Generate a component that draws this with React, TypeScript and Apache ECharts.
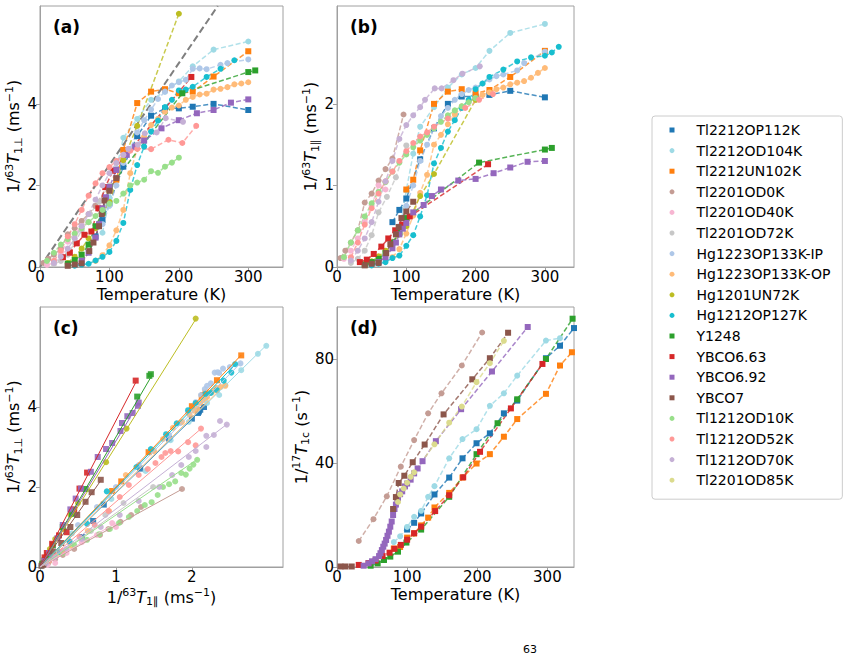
import { useEffect, useRef } from "react";
import * as echarts from "echarts";

const FONT = "DejaVu Sans";

const compoundNames = [
  "Tl2212OP112K", "Tl2212OD104K", "Tl2212UN102K", "Tl2201OD0K", "Tl2201OD40K",
  "Tl2201OD72K", "Hg1223OP133K-IP", "Hg1223OP133K-OP", "Hg1201UN72K", "Hg1212OP127K",
  "Y1248", "YBCO6.63", "YBCO6.92", "YBCO7", "Tl1212OD10K", "Tl1212OD52K",
  "Tl1212OD70K", "Tl2201OD85K",
];
const compoundColors = [
  "#1f77b4", "#9edae5", "#ff7f0e", "#c49c94", "#f7b6d2", "#c7c7c7", "#aec7e8", "#ffbb78",
  "#bcbd22", "#17becf", "#2ca02c", "#d62728", "#9467bd", "#8c564b", "#98df8a", "#ff9896",
  "#c5b0d5", "#dbdb8d",
];
const compoundMarkers = [
  "rect", "circle", "rect", "circle", "circle", "circle", "circle", "circle", "circle",
  "circle", "rect", "rect", "rect", "rect", "circle", "circle", "circle", "circle",
];

// 63Cu rates: T (K), 1/T1 perpendicular and parallel (ms^-1)
const Tl2212OP112K = {
  T: [80, 90, 100, 120, 140, 160, 180, 200, 220, 250, 300],
  perp: [0.75, 1.15, 1.56, 2.46, 3.21, 3.71, 3.89, 3.89, 3.93, 4.0, 3.85],
  par: [0.55, 0.7, 0.84, 1.32, 1.7, 2.0, 2.09, 2.09, 2.11, 2.16, 2.08],
};
const Tl2212OD104K = {
  T: [90, 100, 110, 120, 140, 160, 180, 200, 220, 250, 300],
  perp: [0.84, 1.7, 2.4, 3.17, 3.63, 4.1, 4.3, 4.55, 4.92, 5.33, 5.53],
  par: [0.42, 0.94, 1.39, 1.72, 1.96, 2.2, 2.36, 2.44, 2.65, 2.87, 2.98],
};
const Tl2212UN102K = {
  T: [100, 110, 120, 140, 160, 180, 200, 220, 250, 300],
  perp: [1.9, 2.14, 2.87, 4.02, 4.3, 4.36, 4.26, 4.3, 4.67, 5.29],
  par: [0.95, 1.07, 1.43, 2.0, 2.15, 2.18, 2.13, 2.17, 2.33, 2.65],
};
const Tl2201OD0K = {
  T: [5, 12, 20, 30, 40, 50, 60, 70, 80, 96],
  perp: [0.1, 0.2, 0.3, 0.45, 0.8, 0.95, 1.13, 1.3, 1.5, 1.95],
  par: [0.11, 0.2, 0.3, 0.45, 0.79, 0.9, 1.06, 1.2, 1.33, 1.87],
};
const Tl2201OD40K = {
  T: [10, 20, 30, 40, 50, 60, 70],
  perp: [0.05, 0.1, 0.35, 0.62, 0.8, 1.0, 1.1],
  par: [0.1, 0.2, 0.35, 0.55, 0.75, 1.0, 0.95],
};
const Tl2201OD72K = {
  T: [20, 30, 40, 50, 60, 72, 85, 100],
  perp: [0.07, 0.15, 0.3, 0.6, 0.9, 1.3, 1.6, 2.0],
  par: [0.05, 0.1, 0.2, 0.39, 0.67, 0.86, 1.1, 1.49],
};
const Hg1223OP133K_IP = {
  T: [90, 100, 110, 120, 130, 140, 150, 160, 170, 180, 190, 200, 210, 220, 230, 240, 260, 270, 300],
  perp: [1.05, 1.5, 2.0, 2.55, 2.9, 3.3, 3.6, 3.86, 4.12, 4.3, 4.45, 4.53, 4.59, 4.86, 4.87, 4.85, 4.96, 5.0, 5.09],
  par: [0.5, 0.75, 1.0, 1.3, 1.5, 1.7, 1.85, 1.95, 2.05, 2.12, 2.17, 2.2, 2.25, 2.3, 2.34, 2.36, 2.41, 2.5, 2.64],
};
const Hg1223OP133K_OP = {
  T: [80, 90, 100, 110, 120, 130, 140, 150, 160, 170, 180, 190, 200, 210, 220, 230, 240, 250, 260, 270, 280, 290, 300],
  perp: [0.15, 0.29, 0.53, 0.9, 1.4, 2.3, 2.9, 3.2, 3.48, 3.63, 3.81, 3.91, 3.96, 4.1, 4.17, 4.23, 4.25, 4.35, 4.37, 4.41, 4.48, 4.5, 4.53],
  par: [0.12, 0.22, 0.41, 0.63, 0.91, 1.13, 1.5, 1.62, 1.75, 1.87, 1.97, 2.03, 2.07, 2.11, 2.14, 2.18, 2.2, 2.24, 2.26, 2.28, 2.32, 2.38, 2.44],
};
const Hg1201UN72K = {
  T: [40, 50, 60, 70, 80, 90, 100, 120, 140, 200],
  perp: [0.1, 0.25, 0.45, 0.7, 0.95, 1.3, 1.6, 2.62, 3.46, 6.21],
  par: [0.03, 0.07, 0.13, 0.2, 0.3, 0.4, 0.5, 0.87, 1.14, 2.05],
};
const Hg1212OP127K = {
  T: [50, 60, 70, 80, 90, 100, 110, 120, 130, 140, 150, 160, 170, 180, 190, 200, 210, 220, 240, 260, 280, 300, 310, 320],
  perp: [0.03, 0.06, 0.08, 0.16, 0.25, 0.37, 0.64, 1.08, 1.89, 2.5, 2.95, 3.32, 3.59, 3.92, 4.1, 4.33, 4.35, 4.42, 4.66, 4.86, 5.07, null, null, null],
  par: [0.02, 0.04, 0.06, 0.11, 0.14, 0.26, 0.39, 0.62, 0.88, 1.27, 1.46, 1.66, 1.8, 1.95, 2.05, 2.18, 2.25, 2.33, 2.42, 2.52, 2.57, 2.59, 2.63, 2.7],
};
const Y1248 = {
  T: [40, 50, 60, 70, 80, 90, 100, 205, 300, 310],
  perp: [0.08, 0.17, 0.3, 0.55, 1.0, 1.33, 1.95, 4.26, 4.78, 4.82],
  par: [0.03, 0.06, 0.1, 0.17, 0.3, 0.42, 0.6, 1.28, 1.44, 1.46],
};
const YBCO663 = {
  T: [33, 43, 53, 64, 74, 84, 94, 105, 218],
  perp: [0.24, 0.35, 0.58, 0.79, 0.87, 1.44, 1.96, 2.36, 4.66],
  par: [0.06, 0.09, 0.16, 0.25, 0.35, 0.45, 0.52, 0.62, 1.26],
};
const YBCO692 = {
  T: [60, 70, 80, 85, 90, 95, 100, 110, 125, 137, 150, 175, 200, 226, 250, 275, 300],
  perp: [0.15, 0.35, 0.72, 1.05, 1.44, 1.71, 1.96, 2.38, 2.75, 2.95, 3.1, 3.4, 3.6, 3.77, 3.85, 4.03, 4.11],
  par: [0.06, 0.12, 0.23, 0.3, 0.4, 0.47, 0.54, 0.67, 0.76, 0.87, 0.95, 1.06, 1.08, 1.15, 1.22, 1.29, 1.3],
};
const YBCO7 = {
  T: [40, 50, 60, 71, 77, 85, 89, 93, 100, 110],
  perp: [0.03, 0.06, 0.09, 0.39, 0.6, 1.0, 1.3, 1.63, 1.87, 2.18],
  par: [0.02, 0.04, 0.05, 0.17, 0.28, 0.4, 0.49, 0.6, 0.68, 0.8],
};
const Tl1212OD10K = {
  T: [10, 20, 30, 40, 50, 60, 70, 80, 90, 100, 110, 120, 130, 140, 150, 160, 170, 180, 190, 200],
  perp: [0.15, 0.35, 0.55, 0.68, 0.82, 0.95, 1.1, 1.25, 1.4, 1.55, 1.62, 1.8, 2.0, 2.07, 2.14, 2.35, 2.31, 2.46, 2.56, 2.68],
  par: [0.12, 0.3, 0.45, 0.62, 0.78, 0.92, 1.04, 1.17, 1.28, 1.38, 1.47, 1.55, 1.62, 1.7, 1.78, 1.86, 1.92, 1.97, 2.02, 2.07],
};
const Tl1212OD52K = {
  T: [20, 30, 40, 50, 60, 70, 80, 90, 100, 110, 120, 130, 140, 160, 185, 205, 225],
  perp: [0.15, 0.4, 0.75, 1.05, 1.4, 1.75, 2.05, 2.3, 2.45, 2.6, 2.75, 2.85, 2.9, 2.89, 3.12, 3.04, 3.46],
  par: [0.12, 0.3, 0.52, 0.72, 0.9, 1.05, 1.17, 1.3, 1.42, 1.52, 1.6, 1.65, 1.72, 1.82, 1.95, 2.05, 2.12],
};
const Tl1212OD70K = {
  T: [20, 30, 40, 50, 60, 70, 80, 90, 100, 110, 120, 127, 141, 151, 168, 181, 206],
  perp: [0.1, 0.25, 0.45, 0.7, 1.0, 1.3, 1.65, 2.0, 2.3, 2.55, 2.75, 2.9, 3.0, 3.28, 3.3, 3.65, 3.56],
  par: [0.08, 0.2, 0.35, 0.55, 0.8, 1.05, 1.3, 1.57, 1.74, 1.86, 1.96, 2.05, 2.19, 2.19, 2.29, 2.37, 2.46],
};
const Tl2201OD85K = { T: [] as number[], perp: [] as (number | null)[], par: [] as (number | null)[] };

const copperData = [
  Tl2212OP112K, Tl2212OD104K, Tl2212UN102K, Tl2201OD0K, Tl2201OD40K, Tl2201OD72K,
  Hg1223OP133K_IP, Hg1223OP133K_OP, Hg1201UN72K, Hg1212OP127K, Y1248, YBCO663,
  YBCO692, YBCO7, Tl1212OD10K, Tl1212OD52K, Tl1212OD70K, Tl2201OD85K,
];

// slopes of the straight-line fits of 1/T1perp against 1/T1par
const fitSlopes = [
  1.85, 1.86, 2.0, 1.04, 1.1, 1.35, 1.93, 1.87, 3.02, 1.97, 3.25, 3.66, 3.15, 2.7, 1.3, 1.63, 1.45, null,
];

// Korringa-like reference line in panel (a): 1/T1 = T / 40
const korringaSlope = 1 / 40;

// 17O rates, 1/T1c (s^-1) vs T (K)
const o17_Tl2212OP112K = {
  T: [100, 110, 120, 139, 160, 179, 199, 218, 238, 257, 298, 318, 338],
  rate: [14.4, 17, 20.6, 27.9, 34.4, 41.8, 47.6, 51.4, 59.1, 64, 80.3, 85.1, 91.9],
};
const o17_Tl2212OD104K = {
  T: [81, 90, 100, 110, 120, 130, 139, 160, 179, 199, 218, 238, 257, 298, 318],
  rate: [9.6, 11.8, 15.4, 19.3, 21.6, 27, 31.1, 41.8, 49.2, 53, 62, 66.8, 73.6, 87.1, 88],
};
const o17_Tl2212UN102K = {
  T: [81, 90, 100, 110, 120, 130, 139, 160, 179, 199, 218, 238, 257, 298, 318, 335],
  rate: [7.1, 7.7, 11.3, 12.9, 16, 19, 22.9, 28.5, 34.4, 39.8, 43.4, 50.1, 56.9, 66.6, 77.5, 82.6],
};
const o17_Tl2201OD0K = {
  T: [31, 52, 71, 91, 110, 130, 149, 178, 207],
  rate: [10, 18.4, 27.2, 38.6, 48.8, 59.1, 66.8, 77.5, 90.2],
};
const o17_Y1248 = {
  T: [48, 58, 67, 76, 87, 99, 120, 160, 199, 229, 257, 298, 336],
  rate: [0.5, 1.4, 2.7, 4, 5.9, 9.4, 14.4, 27, 43.4, 55.3, 64.5, 80, 95.5],
};
const o17_YBCO663 = {
  T: [31, 45, 55, 65, 75, 82, 91, 100, 110, 120, 140, 160, 180, 204, 248, 293],
  rate: [0.8, 1.5, 2.5, 4.2, 5.5, 7, 8.5, 10.5, 13, 15.5, 21.5, 27.6, 34.5, 44.3, 61, 78.1],
};
const o17_YBCO692 = {
  T: [38, 45, 50, 55, 60, 62, 64, 66, 68, 70, 72, 74, 76, 78, 80, 82, 84, 87, 90, 93, 97, 100, 105, 110, 115, 122, 141, 177, 221, 272],
  rate: [0.5, 1.4, 2.2, 3.0, 4.2, 5.3, 6.5, 7.8, 9.0, 10.4, 12, 13.6, 15.5, 17.5, 20, 22.3, 24, 26.5, 28, 29.1, 31, 32.1, 33.6, 36, 37.9, 40.7, 48.4, 60.7, 75.2, 92.3],
};
const o17_YBCO7 = {
  T: [5, 12, 21, 50, 80, 84, 88, 96, 108, 125, 152, 193, 218, 244],
  rate: [0.2, 0.2, 0.2, null, 22.3, 26.9, 32.3, 35.1, 40.3, 47.1, 58.7, 72.2, 80.3, 90.1],
};
const o17_Tl2201OD85K = {
  T: [87, 90, 95, 100, 105, 110, 139, 160, 178, 199, 218, 238],
  rate: [25, 27.9, 30.2, 32.4, 34.7, 36.4, 47.2, 55.5, 61.7, 71.1, 78.4, 87],
};

const oxygenSets: [string, { T: number[]; rate: (number | null)[] }][] = [
  ["Tl2212OP112K", o17_Tl2212OP112K],
  ["Tl2212OD104K", o17_Tl2212OD104K],
  ["Tl2212UN102K", o17_Tl2212UN102K],
  ["Tl2201OD0K", o17_Tl2201OD0K],
  ["Y1248", o17_Y1248],
  ["YBCO6.63", o17_YBCO663],
  ["YBCO6.92", o17_YBCO692],
  ["YBCO7", o17_YBCO7],
  ["Tl2201OD85K", o17_Tl2201OD85K],
];

// axis extents and tick positions
const aX = { min: 0, max: 350, ticks: [0, 100, 200, 300] };
const aY = { min: 0, max: 6.4, ticks: [0, 2, 4] };
const bX = { min: 0, max: 342, ticks: [0, 100, 200, 300] };
const bY = { min: 0, max: 3.2, ticks: [0, 1, 2] };
const cX = { min: 0, max: 3.2, ticks: [0, 1, 2] };
const cY = { min: 0, max: 6.5, ticks: [0, 2, 4] };
const dX = { min: 0, max: 338, ticks: [0, 100, 200, 300] };
const dY = { min: 0, max: 100, ticks: [0, 40, 80] };

const AXIS_COLOR = "#a0a0a0";

const rich = {
  n: { fontFamily: FONT, fontSize: 16, color: "#000", lineHeight: 20 },
  it: { fontFamily: FONT, fontSize: 16, fontStyle: "italic", color: "#000", lineHeight: 20 },
  sup: { fontFamily: FONT, fontSize: 11, color: "#000", lineHeight: 10, verticalAlign: "top" },
  sub: { fontFamily: FONT, fontSize: 11, color: "#000", lineHeight: 10, verticalAlign: "bottom" },
};

const perpLabel = "{n|1/}{sup|63}{it|T}{sub|1⊥}{n| (ms}{sup|−1}{n|)}";
const parLabel = "{n|1/}{sup|63}{it|T}{sub|1∥}{n| (ms}{sup|−1}{n|)}";
const oxyLabel = "{n|1/}{sup|17}{it|T}{sub|1c}{n| (s}{sup|−1}{n|)}";

function makeAxis(
  gridIndex: number,
  ext: { min: number; max: number; ticks: number[] },
  name: string,
  nameGap: number,
  vertical: boolean
) {
  return {
    type: "value",
    gridIndex,
    min: ext.min,
    max: ext.max,
    name,
    nameLocation: "middle",
    nameGap,
    nameRotate: vertical ? 90 : 0,
    nameTextStyle: { fontFamily: FONT, fontSize: 16, color: "#000", lineHeight: 18, rich },
    axisLine: { show: true, lineStyle: { color: AXIS_COLOR, width: 1 } },
    axisTick: { show: true, length: 4, customValues: ext.ticks, lineStyle: { color: AXIS_COLOR } },
    axisLabel: {
      customValues: ext.ticks,
      fontFamily: FONT,
      fontSize: 15,
      color: "#000",
      margin: 3,
      lineHeight: 14,
    },
    splitLine: { show: false },
  };
}

function pairs(xs: number[], ys: (number | null)[]) {
  return xs.map((x, i) => (ys[i] == null ? [x, "-"] : [x, ys[i]]));
}

const dash = [5, 2.5];

function buildOption() {
  const series: any[] = [];

  // (a) 1/T1perp vs T and (b) 1/T1par vs T
  copperData.forEach((d, i) => {
    if (!d.T.length) return;
    const common = {
      type: "line",
      name: compoundNames[i],
      symbol: compoundMarkers[i],
      symbolSize: 6,
      itemStyle: { color: compoundColors[i] },
      lineStyle: { color: compoundColors[i], width: 1.5, type: dash, opacity: 0.8 },
      connectNulls: true,
    };
    series.push({ ...common, xAxisIndex: 0, yAxisIndex: 0, data: pairs(d.T, d.perp).filter((p) => p[1] !== "-") });
    series.push({ ...common, xAxisIndex: 1, yAxisIndex: 1, data: pairs(d.T, d.par).filter((p) => p[1] !== "-") });
  });

  series.push({
    type: "line",
    name: "T/40",
    xAxisIndex: 0,
    yAxisIndex: 0,
    symbol: "none",
    clip: true,
    data: [
      [0, 0],
      [aY.max / korringaSlope, aY.max],
    ],
    lineStyle: { color: "#7f7f7f", width: 2, type: [7, 3.5] },
    z: 3,
  });

  // (c) 1/T1perp against 1/T1par, with straight-line fits
  copperData.forEach((d, i) => {
    const pts: number[][] = [];
    d.T.forEach((_, j) => {
      const x = d.par[j];
      const y = d.perp[j];
      if (x != null && y != null) pts.push([x, y]);
    });
    if (!pts.length) return;
    series.push({
      type: "scatter",
      name: compoundNames[i],
      xAxisIndex: 2,
      yAxisIndex: 2,
      symbol: compoundMarkers[i],
      symbolSize: 6,
      itemStyle: { color: compoundColors[i], opacity: 0.9 },
      data: pts,
    });
    const slope = fitSlopes[i];
    if (slope != null) {
      const xMax = Math.max(...pts.map((p) => p[0]));
      series.push({
        type: "line",
        name: compoundNames[i],
        xAxisIndex: 2,
        yAxisIndex: 2,
        symbol: "none",
        data: [
          [0, 0],
          [xMax, slope * xMax],
        ],
        lineStyle: { color: compoundColors[i], width: 1 },
      });
    }
  });

  // (d) 17O 1/T1c vs T
  oxygenSets.forEach(([name, d]) => {
    const i = compoundNames.indexOf(name);
    series.push({
      type: "line",
      name,
      xAxisIndex: 3,
      yAxisIndex: 3,
      symbol: compoundMarkers[i],
      symbolSize: 6,
      itemStyle: { color: compoundColors[i] },
      lineStyle: { color: compoundColors[i], width: 1.5, type: dash, opacity: 0.8 },
      connectNulls: false,
      data: pairs(d.T, d.rate),
    });
  });

  const panelLabel = (text: string, left: number, top: number) => ({
    type: "text",
    left,
    top,
    style: { text, font: `bold 17px "${FONT}"`, fill: "#000" },
  });

  return {
    animation: false,
    backgroundColor: "#fff",
    grid: [
      { left: 40, top: 6, width: 243, height: 261, show: true, borderColor: AXIS_COLOR, borderWidth: 1 },
      { left: 337, top: 6, width: 237, height: 261, show: true, borderColor: AXIS_COLOR, borderWidth: 1 },
      { left: 40, top: 307, width: 243, height: 260, show: true, borderColor: AXIS_COLOR, borderWidth: 1 },
      { left: 337, top: 307, width: 237, height: 260, show: true, borderColor: AXIS_COLOR, borderWidth: 1 },
    ],
    xAxis: [
      makeAxis(0, aX, "Temperature (K)", 17.5, false),
      makeAxis(1, bX, "Temperature (K)", 17.5, false),
      makeAxis(2, cX, parLabel, 20, false),
      makeAxis(3, dX, "Temperature (K)", 17.5, false),
    ],
    yAxis: [
      makeAxis(0, aY, perpLabel, 12.5, true),
      makeAxis(1, bY, parLabel, 14, true),
      makeAxis(2, cY, perpLabel, 12.5, true),
      makeAxis(3, dY, oxyLabel, 21, true),
    ],
    legend: {
      orient: "vertical",
      left: 652,
      top: 116,
      padding: [6, 12, 11, 17.5],
      itemWidth: 5,
      itemHeight: 5,
      itemGap: 4.6,
      selectedMode: false,
      borderColor: "#cccccc",
      borderWidth: 1,
      borderRadius: 3,
      backgroundColor: "#fff",
      textStyle: { fontFamily: FONT, fontSize: 14, color: "#000", lineHeight: 16, padding: [0, 0, 0, 17] },
      data: compoundNames.map((name, i) => ({
        name,
        icon: compoundMarkers[i],
        itemStyle: { color: compoundColors[i], opacity: 1, borderWidth: 0 },
      })),
    },
    graphic: [
      panelLabel("(a)", 53, 18),
      panelLabel("(b)", 350, 18),
      panelLabel("(c)", 53, 319),
      panelLabel("(d)", 350, 319),
      {
        type: "text",
        left: 523,
        top: 644,
        style: { text: "63", font: `11px "${FONT}"`, fill: "#000" },
      },
    ],
    series,
  };
}

export default function App() {
  const ref = useRef<HTMLDivElement>(null);
  useEffect(() => {
    if (!ref.current) return;
    const chart = echarts.init(ref.current, null, { renderer: "svg" });
    chart.setOption(buildOption() as any);
    return () => chart.dispose();
  }, []);
  return (
    <div
      ref={ref}
      style={{ position: "fixed", left: 0, top: 0, width: 849, height: 658, background: "#fff" }}
    />
  );
}
